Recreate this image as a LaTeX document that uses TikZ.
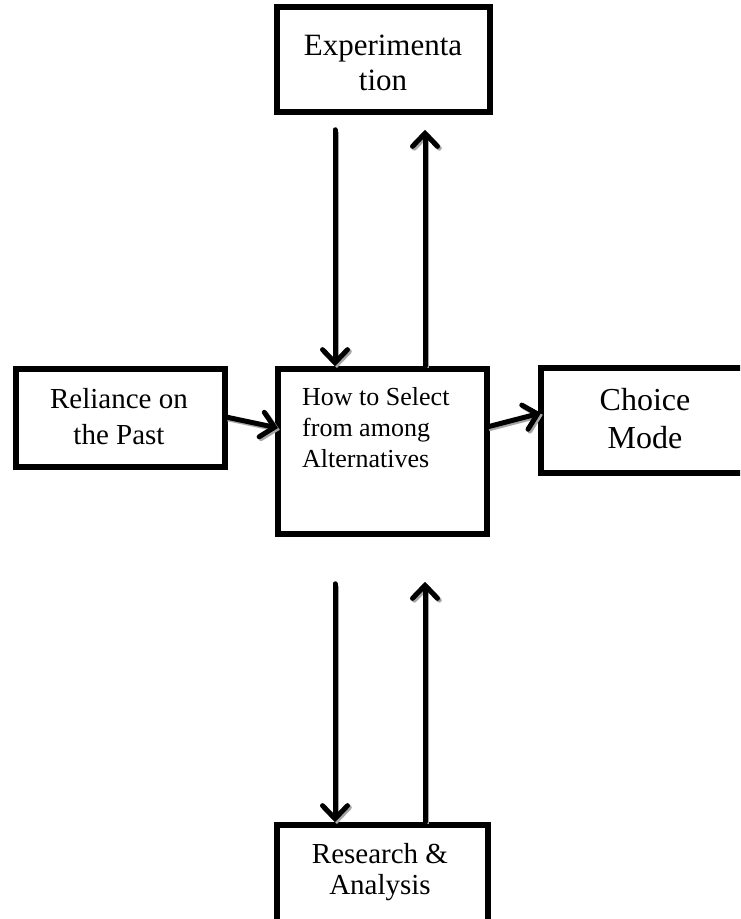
\documentclass[tikz,border=0pt]{standalone}
\usepackage{fontspec}
\setmainfont{Liberation Serif}
\usetikzlibrary{arrows.meta,calc}
\tikzset{
  boxnode/.style={draw=black, line width=5.5pt, rectangle, inner sep=0pt, fill=white},
  txt/.style={inner sep=0pt, align=center},
  arr/.style={line width=5pt, line cap=round, -{Straight Barb[length=13pt,width=25pt,line cap=round]},
    preaction={draw=gray!70, line width=5pt, transform canvas={shift={(1.8pt,-1.8pt)}}}},
}
\begin{document}
\begin{tikzpicture}[x=1pt,y=-1pt]
\useasboundingbox (0,0) rectangle (740,919);
\clip (0,0) rectangle (740,919);
\fill[white] (0,0) rectangle (740,919);
% boxes
\node[boxnode, minimum width=213pt, minimum height=105pt] (exp) at (383.5,59.5) {};
\node[boxnode, minimum width=209pt, minimum height=98pt] (rel) at (120.5,418) {};
\node[boxnode, minimum width=209pt, minimum height=165pt] (c) at (382.5,451.5) {};
\node[boxnode, minimum width=208pt, minimum height=105pt] (ch) at (645,420.5) {};
\node[boxnode, minimum width=211pt, minimum height=100pt] (res) at (382.5,875) {};
% texts
\node[txt, font=\fontsize{31}{35}\selectfont] (expt) at (383,62.5) {Experimenta\\tion};
\node[txt, font=\fontsize{29}{36}\selectfont] (relt) at (119,417) {Reliance on\\the Past};
\node[txt, align=left, anchor=west, font=\fontsize{26}{31}\selectfont] (ct) at (302,428) {How to Select\\from among\\Alternatives};
\node[txt, font=\fontsize{32}{38}\selectfont] (cht) at (645,419) {Choice\\Mode};
\node[txt, font=\fontsize{29}{31}\selectfont] (rest) at (380,872) {Research \&\\Analysis};
% reference coordinates for vertical arrows
\coordinate (L) at (335,0);
\coordinate (R) at (425,0);
\coordinate (relout) at (226,417);
\coordinate (cin) at (278,428);
\coordinate (cout) at (487,427);
\coordinate (chin) at (541,413);
% arrows
\draw[arr, shorten <=15pt] (exp.south -| L) -- (c.north -| L);
\draw[arr, shorten >=15pt] (c.north -| R) -- (exp.south -| R);
\draw[arr, shorten <=47pt] (c.south -| L) -- (res.north -| L);
\draw[arr, shorten >=45pt] (res.north -| R) -- (c.south -| R);
\draw[arr] (relout) -- (cin);
\draw[arr] (cout) -- (chin);
\end{tikzpicture}
\end{document}
